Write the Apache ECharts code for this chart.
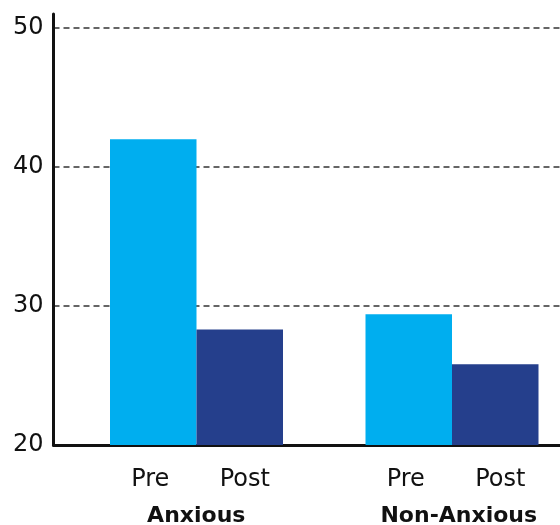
<!DOCTYPE html>
<html><head><meta charset="utf-8">
<script src="https://cdn.jsdelivr.net/npm/echarts@6/dist/echarts.min.js"></script>
<style>html,body{margin:0;padding:0;background:#fff}#c{width:560px;height:525px}</style>
</head><body><div id="c"></div>
<script>
const groups = ['Anxious', 'Non-Anxious'];
const phases = ['Pre', 'Post'];
const preValues = [42.0, 29.4];
const postValues = [28.3, 25.8];
const yTicks = [20, 30, 40, 50];
const yMax = 51;

const FONT = 'DejaVu Sans';
const chart = echarts.init(document.getElementById('c'), null, {renderer: 'canvas'});
const groupShift = [30, 44];

function barLabel(pad) {
  return {
    show: true, position: 'bottom', distance: 23, formatter: '{a}',
    fontFamily: FONT, fontSize: 24, color: '#111', padding: pad
  };
}

chart.setOption({
  animation: false,
  backgroundColor: '#fff',
  grid: {left: 53.5, right: -4.5, top: 14, bottom: 80, containLabel: false, outerBoundsMode: 'none'},
  xAxis: {
    type: 'category',
    data: groups.map((g, i) => ({value: g, textStyle: {padding: [0, 0, 0, groupShift[i]]}})),
    axisLine: {show: true, lineStyle: {color: '#111', width: 3}},
    axisTick: {show: false},
    axisLabel: {fontFamily: FONT, fontSize: 22, fontWeight: 'bold', color: '#111', margin: 60},
    splitLine: {show: false}
  },
  yAxis: {
    type: 'value',
    min: yTicks[0], max: yMax, interval: yTicks[1] - yTicks[0],
    axisLine: {show: true, lineStyle: {color: '#111', width: 3}},
    axisTick: {show: false},
    axisLabel: {fontFamily: FONT, fontSize: 24, color: '#111', margin: 10, showMaxLabel: false},
    splitLine: {show: true, showMinLine: false, showMaxLine: false,
      lineStyle: {type: [6, 4], color: '#333', width: 1.5}}
  },
  series: [
    {type: 'bar', name: '', data: [], barWidth: 30.5, silent: true},
    {type: 'bar', name: phases[0], data: preValues, barWidth: 86.5, barGap: '0%',
      itemStyle: {color: '#00AEEF'}, label: barLabel([0, 6, 0, 0])},
    {type: 'bar', name: phases[1], data: postValues, barWidth: 86.5, barGap: '0%',
      itemStyle: {color: '#253F8C'}, label: barLabel([0, 0, 0, 10])}
  ]
});
</script></body></html>
